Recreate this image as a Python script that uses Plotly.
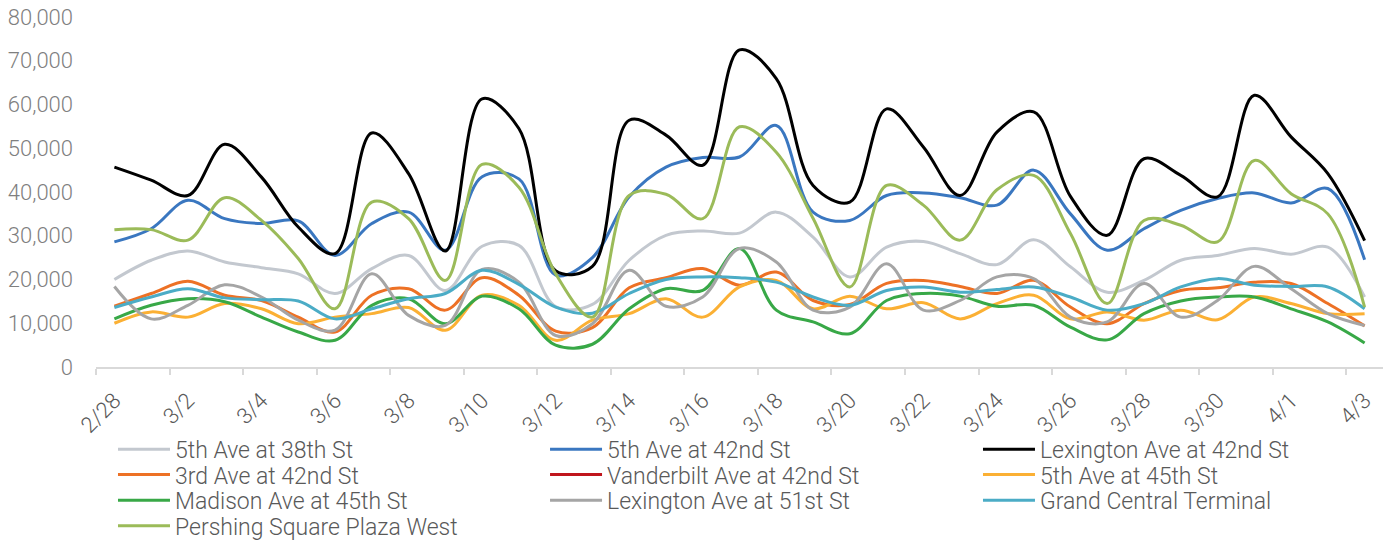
import plotly.graph_objects as go

# Daily pedestrian counts, 2/28 - 4/3
dates = ["2/28", "3/1", "3/2", "3/3", "3/4", "3/5", "3/6", "3/7", "3/8", "3/9",
         "3/10", "3/11", "3/12", "3/13", "3/14", "3/15", "3/16", "3/17", "3/18", "3/19",
         "3/20", "3/21", "3/22", "3/23", "3/24", "3/25", "3/26", "3/27", "3/28", "3/29",
         "3/30", "3/31", "4/1", "4/2", "4/3"]

fifth_38 = [20000, 24400, 26500, 24000, 22700, 21300, 16800, 22500, 25500, 17500,
            27600, 27800, 13800, 14300, 24400, 30100, 31100, 30600, 35400, 29700,
            20600, 27400, 28700, 25900, 23400, 29100, 22900, 17100, 19800, 24400,
            25500, 27100, 25800, 27400, 16000]
fifth_42 = [28600, 31600, 38100, 33900, 32800, 33400, 25500, 32800, 35400, 26700,
            43500, 43000, 21000, 25000, 38900, 45700, 47900, 48000, 55200, 35400,
            33500, 39200, 39800, 38700, 37000, 45000, 35000, 26700, 31600, 35800,
            38500, 39800, 37500, 40800, 24500]
lex_42 = [45700, 42700, 39200, 50900, 43400, 32000, 25900, 53500, 44200, 26500,
          61300, 54500, 22000, 23000, 56400, 53000, 46100, 72500, 65900, 41500,
          37700, 59000, 50300, 39200, 53700, 58300, 39000, 30100, 47600, 43800,
          38900, 62100, 52600, 44200, 28900]
third_42 = [13900, 16800, 19600, 16400, 15200, 11400, 8000, 16400, 17900, 13000,
            20400, 16400, 8200, 9000, 18100, 20400, 22500, 18700, 21700, 15200,
            14300, 19100, 19800, 18400, 16800, 19800, 13700, 9900, 14500, 17500,
            18100, 19400, 19100, 14500, 9400]
vanderbilt_42 = [None] * len(dates)
fifth_45 = [10000, 12600, 11400, 14500, 13300, 9900, 11400, 12200, 13600, 8400,
            16400, 14100, 6100, 10700, 12200, 15600, 11400, 18300, 19800, 13300,
            16200, 13300, 14700, 11000, 14500, 16400, 11000, 12600, 10700, 13000,
            10800, 16000, 14500, 12200, 12200]
madison_45 = [11000, 14100, 15600, 14900, 11400, 8000, 6100, 14100, 15600, 9900,
              16200, 13300, 5000, 5200, 13300, 17900, 17500, 27100, 13000, 10300,
              7600, 15200, 16800, 16200, 13900, 14100, 9100, 6200, 12200, 15100,
              16000, 16000, 13300, 10300, 5500]
lex_51 = [18400, 11000, 14100, 18800, 16000, 10700, 8400, 21300, 11800, 9500,
          22300, 19400, 7200, 9900, 22100, 13900, 16000, 27100, 24000, 13000,
          13700, 23600, 13000, 15200, 20600, 20200, 11400, 10300, 19100, 11400,
          15200, 23000, 17900, 12200, 9500]
grand_central = [13600, 16000, 17900, 15800, 15400, 15100, 11000, 13300, 15600, 16800,
                 22100, 18900, 13700, 12300, 16800, 20000, 20600, 20400, 19400, 16000,
                 14100, 17500, 18300, 17100, 17700, 18300, 16000, 13000, 14500, 18300,
                 20200, 18700, 18400, 18300, 13300]
pershing_west = [31400, 31400, 29000, 38700, 33500, 24800, 13300, 37700, 33900, 19800,
                 46300, 41100, 21300, 11400, 39200, 39500, 33900, 54900, 49100, 34000,
                 18300, 41500, 37000, 29000, 40500, 43800, 30500, 14500, 33500, 32400,
                 28600, 47200, 39600, 35000, 13700]

series = [
    ("5th Ave at 38th St", fifth_38, "#C3C8CF"),
    ("5th Ave at 42nd St", fifth_42, "#3A77C0"),
    ("Lexington Ave at 42nd St", lex_42, "#000000"),
    ("3rd Ave at 42nd St", third_42, "#ED7125"),
    ("Vanderbilt Ave at 42nd St", vanderbilt_42, "#C0161D"),
    ("5th Ave at 45th St", fifth_45, "#FBB034"),
    ("Madison Ave at 45th St", madison_45, "#38A847"),
    ("Lexington Ave at 51st St", lex_51, "#A5A5A5"),
    ("Grand Central Terminal", grand_central, "#4BACC6"),
    ("Pershing Square Plaza West", pershing_west, "#9BBB59"),
]

x_idx = list(range(len(dates)))
FONT = "Roboto, Lato, sans-serif"

# legend laid out as a 3-column grid below the axis, one legend box per entry
LEGEND_COLS_X = [0.0132, 0.3489, 0.6853]
LEGEND_ROWS_Y = [-0.2351, -0.3074, -0.3809, -0.4540]
legend_font = dict(family=FONT, size=23, color="#595959", weight=300)

fig = go.Figure()
legend_layout = {}
for k, (name, vals, color) in enumerate(series):
    leg_id = "legend" if k == 0 else f"legend{k + 1}"
    fig.add_trace(go.Scatter(
        x=x_idx, y=vals, name=name, mode="lines", legend=leg_id,
        line=dict(color=color, width=3, shape="spline", smoothing=1.0),
    ))
    legend_layout[leg_id] = dict(
        orientation="v", xanchor="left", yanchor="middle",
        x=LEGEND_COLS_X[k % 3], y=LEGEND_ROWS_Y[k // 3],
        font=legend_font, itemwidth=52,
        bgcolor="rgba(0,0,0,0)", borderwidth=0,
    )

# every other date labelled at its category; tick marks on category boundaries
label_pos = [i for i in x_idx if i % 2 == 0]
label_txt = [dates[i] for i in label_pos]
boundaries = [i - 0.5 for i in label_pos]

fig.update_layout(
    width=1390, height=542,
    margin=dict(l=96, r=7, t=17, b=175, autoexpand=False),
    paper_bgcolor="white", plot_bgcolor="white",
    font=dict(family=FONT, color="#7F7F7F", size=22),
    showlegend=True,
    **legend_layout,
)
fig.update_xaxes(
    range=[-0.5, 34.5], tickmode="array", tickvals=label_pos, ticktext=label_txt,
    tickangle=-45, ticks="", ticklabelstandoff=10,
    minor=dict(tickmode="array", tickvals=boundaries, ticks="outside", ticklen=6,
               tickcolor="#D9D9D9", tickwidth=1.5, showgrid=False),
    showline=True, linecolor="#D9D9D9", linewidth=2, showgrid=False, zeroline=False,
    automargin=False,
    tickfont=dict(family=FONT, size=22, color="#595959", weight=300),
)
fig.update_yaxes(
    range=[0, 80000], dtick=10000, tickformat=",", showgrid=False, zeroline=False,
    showline=False, ticks="", ticklabelstandoff=22, automargin=False,
    tickfont=dict(family=FONT, size=22, color="#7F7F7F", weight=300),
)

fig.write_html("out.html")
